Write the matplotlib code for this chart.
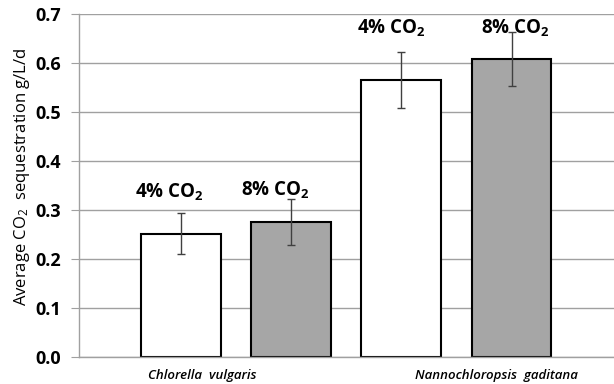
import matplotlib
matplotlib.use("Agg")
import matplotlib.pyplot as plt

# data
species = ["Chlorella  vulgaris", "Nannochloropsis  gaditana"]
conditions = ["4% CO$_\\mathbf{2}$", "8% CO$_\\mathbf{2}$"]
means = [0.252, 0.275, 0.565, 0.609]
errors = [0.041, 0.047, 0.057, 0.055]
yticks = [0.0, 0.1, 0.2, 0.3, 0.4, 0.5, 0.6, 0.7]

plt.rcParams["font.family"] = ["Open Sans", "DejaVu Sans"]
plt.rcParams["mathtext.fontset"] = "custom"
plt.rcParams["mathtext.rm"] = "Open Sans"
plt.rcParams["mathtext.bf"] = "Open Sans:bold"
plt.rcParams["mathtext.it"] = "Open Sans:italic"


def main():
    fig = plt.figure(figsize=(6.14, 3.84), dpi=100)
    ax = fig.add_axes([79 / 614, 27 / 384, 1 - 79 / 614, 343 / 384])

    x = list(range(len(means)))
    colors = ["white", "#a6a6a6"] * 2

    ax.yaxis.grid(True, color="#a0a0a0", linewidth=1.0)
    ax.set_axisbelow(True)
    ax.bar(x, means, width=0.725, color=colors, edgecolor="black",
           linewidth=1.5, zorder=2)
    ax.errorbar(x, means, yerr=errors, fmt="none", ecolor="#404040",
                elinewidth=1.0, capsize=3, capthick=1.0, zorder=3)

    ax.set_xlim(-0.925, 3.93)
    ax.set_ylim(0, 0.7)
    ax.set_yticks(yticks)
    ax.set_yticklabels([f"{v:.1f}" for v in yticks], fontsize=13,
                       fontweight="bold")
    ax.set_xticks([])
    ax.tick_params(axis="y", length=6, color="#a0a0a0", pad=7)

    for s in ["top", "right"]:
        ax.spines[s].set_visible(False)
    for s in ["left", "bottom"]:
        ax.spines[s].set_color("#a0a0a0")
        ax.spines[s].set_linewidth(1.0)

    ax.set_ylabel("Average CO$_2$  sequestration g/L/d", fontsize=12)
    ax.yaxis.set_label_coords(-0.088, 0.525)

    # condition labels above bars (manually placed boxes in the original)
    label_offsets = [(-0.11, 0.337), (-0.14, 0.341), (-0.09, 0.673), (0.03, 0.673)]
    for i, (dx, yy) in enumerate(label_offsets):
        ax.text(x[i] + dx, yy, conditions[i % 2], ha="center", va="center",
                fontsize=13.5, fontweight="bold")

    # species names under each group
    name_x = [0.19, 2.865]
    for name, nx in zip(species, name_x):
        ax.text(nx, -0.037, name, ha="center", va="center", fontsize=9.5,
                fontstyle="italic", fontweight="semibold", clip_on=False)

    fig.savefig("out.png", dpi=100)


if __name__ == "__main__":
    main()
